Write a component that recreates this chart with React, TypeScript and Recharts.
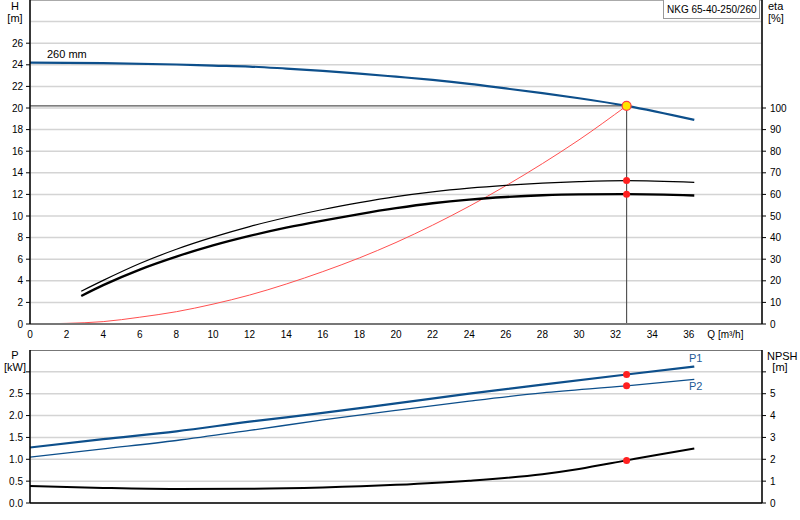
import {
  ComposedChart,
  Line,
  XAxis,
  YAxis,
  CartesianGrid,
  ReferenceLine,
  ReferenceDot,
} from "recharts";

const FONT = "'Liberation Sans', Arial, sans-serif";
const BLUE = "#0d4f8b";
const RED = "#ff2020";

// flow axis
const qTicks = [0, 2, 4, 6, 8, 10, 12, 14, 16, 18, 20, 22, 24, 26, 28, 30, 32, 34, 36, 38];
const hTicks = [0, 2, 4, 6, 8, 10, 12, 14, 16, 18, 20, 22, 24, 26, 28, 30];
const etaTicks = [0, 10, 20, 30, 40, 50, 60, 70, 80, 90, 100, 150];
const pTicks = [0, 0.5, 1, 1.5, 2, 2.5, 3, 3.5];
const npshTicks = [0, 1, 2, 3, 4, 5, 6, 7];

// pump head, 260 mm impeller
const qHead = [0, 4, 8, 10, 12, 14, 16, 18, 20, 22, 24, 26, 28, 30, 32.6, 36.3];
const head = [24.2, 24.15, 24.03, 23.93, 23.84, 23.65, 23.44, 23.19, 22.9, 22.6, 22.24, 21.81, 21.37, 20.9, 20.2, 18.9];

// system curve
const qSys = [0, 2, 4, 6, 8, 10, 12, 14, 16, 18, 20, 22, 24, 26, 28, 30, 32.6];
const hSys = [0, 0.06, 0.22, 0.63, 1.14, 1.84, 2.68, 3.7, 4.85, 6.12, 7.55, 9.15, 10.9, 12.8, 14.85, 17.05, 20.2];

// efficiencies
const qEta = [2.8, 4, 6, 8, 10, 12, 14, 16, 18, 20, 22, 24, 26, 28, 30, 32.6, 36.3];
const etaPump = [15.2, 20.2, 28, 34.6, 40.2, 45.1, 49.3, 53, 56.2, 59, 61.2, 62.9, 64.2, 65.2, 65.9, 66.4, 65.6];
const etaTotal = [13, 18, 25.2, 31.2, 36.4, 40.8, 44.6, 47.9, 50.9, 53.6, 55.9, 57.6, 58.8, 59.6, 60, 60.1, 59.5];

// power and NPSH
const qPow = [0, 4, 8, 12, 16, 20, 24, 28, 32.6, 36.3];
const p1 = [1.27, 1.46, 1.64, 1.86, 2.06, 2.28, 2.5, 2.71, 2.94, 3.12];
const p2 = [1.05, 1.24, 1.43, 1.66, 1.9, 2.12, 2.33, 2.52, 2.68, 2.83];
const qNpsh = [0, 4, 8, 12, 16, 20, 24, 28, 30, 32.6, 34, 36.3];
const npsh = [0.78, 0.69, 0.64, 0.65, 0.71, 0.83, 1.02, 1.32, 1.56, 1.95, 2.16, 2.49];

// duty point
const qDuty = 32.6;
const hDuty = 20.2;
const etaPumpDuty = 66.4;
const etaTotalDuty = 60.1;
const p1Duty = 2.94;
const p2Duty = 2.68;
const npshDuty = 1.95;

const pts = (qs: number[], vs: number[]) => qs.map((q, i) => ({ q, v: vs[i] }));

const txt = { fontFamily: FONT, fontSize: 10, fill: "#000" };

const HTick = ({ x, y, payload }: any) => {
  const v = payload.value;
  if (v === 30)
    return (
      <g>
        <text x={x - 15} y={y + 10} textAnchor="middle" {...txt} fontSize={11}>H</text>
        <text x={x - 15} y={y + 22} textAnchor="middle" {...txt} fontSize={11}>[m]</text>
      </g>
    );
  if (v > 26) return <g />;
  return (
    <g>
      <line x1={x - 4} x2={x} y1={y} y2={y} stroke="#000" />
      <text x={x - 7} y={y} dy="0.35em" textAnchor="end" {...txt}>{v}</text>
    </g>
  );
};

const EtaTick = ({ x, y, payload }: any) => {
  const v = payload.value;
  if (v === 150)
    return (
      <g>
        <text x={x + 6} y={y + 10} {...txt} fontSize={11}>eta</text>
        <text x={x + 6} y={y + 22} {...txt} fontSize={11}>[%]</text>
      </g>
    );
  return (
    <g>
      <line x1={x} x2={x + 4} y1={y} y2={y} stroke="#000" />
      <text x={x + 8} y={y} dy="0.35em" {...txt}>{v}</text>
    </g>
  );
};

const QTick = ({ x, y, payload }: any) => {
  const v = payload.value;
  return (
    <text x={x} y={y + 14} textAnchor="middle" {...txt}>
      {v === 38 ? "Q [m³/h]" : v}
    </text>
  );
};

const PTick = ({ x, y, payload }: any) => {
  const v = payload.value;
  if (v === 3.5)
    return (
      <g>
        <text x={x - 15} y={y + 9} textAnchor="middle" {...txt} fontSize={11}>P</text>
        <text x={x - 15} y={y + 21} textAnchor="middle" {...txt} fontSize={11}>[kW]</text>
      </g>
    );
  return (
    <g>
      <line x1={x - 4} x2={x} y1={y} y2={y} stroke="#000" />
      {v < 3 && (
        <text x={x - 7} y={y} dy="0.35em" textAnchor="end" {...txt}>{v.toFixed(1)}</text>
      )}
    </g>
  );
};

const NpshTick = ({ x, y, payload }: any) => {
  const v = payload.value;
  if (v === 7)
    return (
      <g>
        <text x={x + 5} y={y + 10} {...txt} fontSize={11}>NPSH</text>
        <text x={x + 18} y={y + 21} textAnchor="middle" {...txt} fontSize={11}>[m]</text>
      </g>
    );
  return (
    <g>
      <line x1={x} x2={x + 4} y1={y} y2={y} stroke="#000" />
      {v < 6 && <text x={x + 8} y={y} dy="0.35em" {...txt}>{v}</text>}
    </g>
  );
};

const overlay = (left: number, top: number, color = "#000", size = 11) => ({
  position: "absolute" as const,
  left,
  top,
  fontFamily: FONT,
  fontSize: size,
  color,
  lineHeight: "12px",
  whiteSpace: "nowrap" as const,
});

export default function App() {
  return (
    <div style={{ position: "absolute", left: 0, top: 0, width: 800, height: 520, background: "#fff" }}>
      <ComposedChart width={800} height={350} margin={{ top: 0, right: 0, bottom: 0, left: 0 }}>
        <CartesianGrid yAxisId="h" stroke="#d4d4d4" strokeWidth={1.5} />
        <XAxis
          xAxisId="q"
          dataKey="q"
          type="number"
          domain={[0, 40]}
          ticks={qTicks}
          height={26}
          tickSize={0}
          tickMargin={0}
          tickLine={false}
          tick={<QTick />}
          axisLine={{ stroke: "#777", strokeWidth: 2 }}
        />
        <YAxis
          yAxisId="h"
          type="number"
          domain={[0, 30]}
          ticks={hTicks}
          width={30}
          tickSize={0}
          tickMargin={0}
          tickLine={false}
          tick={<HTick />}
          axisLine={{ stroke: "#000", strokeWidth: 1.5 }}
          interval={0}
        />
        <YAxis
          yAxisId="eta"
          orientation="right"
          type="number"
          domain={[0, 150]}
          ticks={etaTicks}
          width={38}
          tickSize={0}
          tickMargin={0}
          tickLine={false}
          tick={<EtaTick />}
          axisLine={{ stroke: "#000", strokeWidth: 1.5 }}
          interval={0}
        />
        <ReferenceLine xAxisId="q" yAxisId="h" y={30} stroke="#999" strokeWidth={1.5} />
        <ReferenceLine
          xAxisId="q"
          yAxisId="h"
          segment={[{ x: 0, y: hDuty }, { x: qDuty, y: hDuty }]}
          stroke="#555"
          strokeWidth={1.2}
        />
        <ReferenceLine
          xAxisId="q"
          yAxisId="h"
          segment={[{ x: qDuty, y: 0 }, { x: qDuty, y: hDuty }]}
          stroke="#555"
          strokeWidth={1.2}
        />
        <Line
          xAxisId="q"
          yAxisId="h"
          data={pts(qSys, hSys)}
          dataKey="v"
          type="monotone"
          stroke="#ff5050"
          strokeWidth={1}
          dot={false}
          isAnimationActive={false}
        />
        <Line
          xAxisId="q"
          yAxisId="eta"
          data={pts(qEta, etaPump)}
          dataKey="v"
          type="monotone"
          stroke="#000"
          strokeWidth={1.2}
          dot={false}
          isAnimationActive={false}
        />
        <Line
          xAxisId="q"
          yAxisId="eta"
          data={pts(qEta, etaTotal)}
          dataKey="v"
          type="monotone"
          stroke="#000"
          strokeWidth={2.3}
          dot={false}
          isAnimationActive={false}
        />
        <Line
          xAxisId="q"
          yAxisId="h"
          data={pts(qHead, head)}
          dataKey="v"
          type="monotone"
          stroke={BLUE}
          strokeWidth={2.2}
          dot={false}
          isAnimationActive={false}
        />
        <ReferenceDot xAxisId="q" yAxisId="eta" x={qDuty} y={etaPumpDuty} r={3.5} fill={RED} stroke="none" />
        <ReferenceDot xAxisId="q" yAxisId="eta" x={qDuty} y={etaTotalDuty} r={3.5} fill={RED} stroke="none" />
        <ReferenceDot xAxisId="q" yAxisId="h" x={qDuty} y={hDuty} r={4.5} fill="#ffe600" stroke="#ff4040" strokeWidth={1.2} />
      </ComposedChart>

      <ComposedChart width={800} height={170} margin={{ top: 0, right: 0, bottom: 0, left: 0 }}>
        <CartesianGrid yAxisId="p" stroke="#d4d4d4" strokeWidth={1.5} />
        <XAxis
          xAxisId="q"
          dataKey="q"
          type="number"
          domain={[0, 40]}
          ticks={qTicks}
          height={17}
          tick={false}
          tickLine={false}
          axisLine={{ stroke: "#000", strokeWidth: 1.5 }}
        />
        <YAxis
          yAxisId="p"
          type="number"
          domain={[0, 3.5]}
          ticks={pTicks}
          width={30}
          tickSize={0}
          tickMargin={0}
          tickLine={false}
          tick={<PTick />}
          axisLine={{ stroke: "#000", strokeWidth: 1.5 }}
          interval={0}
        />
        <YAxis
          yAxisId="npsh"
          orientation="right"
          type="number"
          domain={[0, 7]}
          ticks={npshTicks}
          width={38}
          tickSize={0}
          tickMargin={0}
          tickLine={false}
          tick={<NpshTick />}
          axisLine={{ stroke: "#000", strokeWidth: 1.5 }}
          interval={0}
        />
        <ReferenceLine xAxisId="q" yAxisId="p" y={3.5} stroke="#777" strokeWidth={2} />
        <Line
          xAxisId="q"
          yAxisId="p"
          data={pts(qPow, p1)}
          dataKey="v"
          type="monotone"
          stroke={BLUE}
          strokeWidth={2.2}
          dot={false}
          isAnimationActive={false}
        />
        <Line
          xAxisId="q"
          yAxisId="p"
          data={pts(qPow, p2)}
          dataKey="v"
          type="monotone"
          stroke={BLUE}
          strokeWidth={1.3}
          dot={false}
          isAnimationActive={false}
        />
        <Line
          xAxisId="q"
          yAxisId="npsh"
          data={pts(qNpsh, npsh)}
          dataKey="v"
          type="monotone"
          stroke="#000"
          strokeWidth={2}
          dot={false}
          isAnimationActive={false}
        />
        <ReferenceDot xAxisId="q" yAxisId="p" x={qDuty} y={p1Duty} r={3.5} fill={RED} stroke="none" />
        <ReferenceDot xAxisId="q" yAxisId="p" x={qDuty} y={p2Duty} r={3.5} fill={RED} stroke="none" />
        <ReferenceDot xAxisId="q" yAxisId="npsh" x={qDuty} y={npshDuty} r={3.5} fill={RED} stroke="none" />
      </ComposedChart>

      <div
        style={{
          ...overlay(663, -1, "#000", 10),
          width: 97,
          height: 20,
          border: "1px solid #999",
          background: "#fff",
          boxSizing: "border-box",
          paddingLeft: 3,
          lineHeight: "19px",
          overflow: "hidden",
        }}
      >
        NKG 65-40-250/260
      </div>
      <div style={overlay(47, 48)}>260 mm</div>
      <div style={overlay(689, 352, "#1d5a96")}>P1</div>
      <div style={overlay(689, 380, "#1d5a96")}>P2</div>
    </div>
  );
}
